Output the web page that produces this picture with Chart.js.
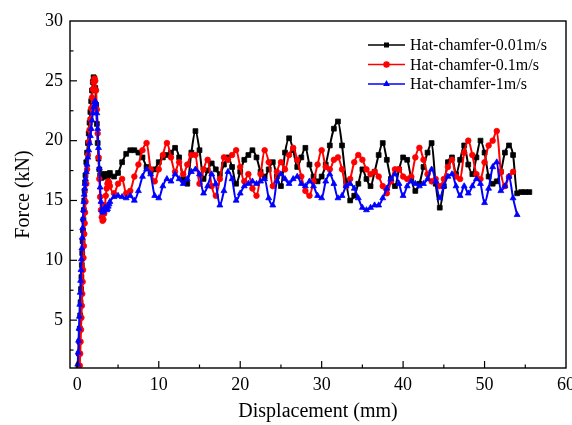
<!DOCTYPE html>
<html>
<head>
<meta charset="utf-8">
<script src="https://cdn.jsdelivr.net/npm/chart.js@4.4.1/dist/chart.umd.min.js"></script>
<style>
  html, body { margin: 0; padding: 0; background: #fff; }
  #wrap { width: 572px; height: 425px; position: relative; }
</style>
</head>
<body>
<div id="wrap"><canvas id="chart"></canvas></div>
<script>
// displacement (mm): rise, peak and body sections
const dispRise = [0, 0.05, 0.1, 0.15, 0.2, 0.25, 0.3, 0.35, 0.4, 0.45, 0.5, 0.55, 0.6, 0.65, 0.7, 0.75, 0.8, 0.85, 0.9, 0.95, 1.0];
const dispPeak = [1.1, 1.2, 1.3, 1.4, 1.5, 1.6, 1.7, 1.8, 1.9, 2.0,
  2.1, 2.2, 2.3, 2.4, 2.5, 2.6, 2.7, 2.8, 2.9, 3.0,
  3.1, 3.2, 3.3, 3.4, 3.5, 3.6, 3.7, 3.8, 3.9, 4.0];
const dispBody = [4.5, 5, 5.5, 6, 6.5, 7, 7.5, 8, 8.5, 9,
  9.5, 10, 10.5, 11, 11.5, 12, 12.5, 13, 13.5, 14,
  14.5, 15, 15.5, 16, 16.5, 17, 17.5, 18, 18.5, 19,
  19.5, 20, 20.5, 21, 21.5, 22, 22.5, 23, 23.5, 24,
  24.5, 25, 25.5, 26, 26.5, 27, 27.5, 28, 28.5, 29,
  29.5, 30, 30.5, 31, 31.5, 32, 32.5, 33, 33.5, 34,
  34.5, 35, 35.5, 36, 36.5, 37, 37.5, 38, 38.5, 39,
  39.5, 40, 40.5, 41, 41.5, 42, 42.5, 43, 43.5, 44,
  44.5, 45, 45.5, 46, 46.5, 47, 47.5, 48, 48.5, 49,
  49.5, 50, 50.5, 51, 51.5, 52, 52.5, 53, 53.5, 54,
  54.5, 55, 55.5];

// Hat-chamfer-0.01m/s (kN)
const blackRise = [null, null, null, 1.2, 2.2, 3.2, 4.3, 5.4, 6.5, 7.6, 8.6, 9.6, 10.6, 11.6, 12.5, 13.4, 14.2, 15.0, 15.8, 16.5, 17.1];
const blackPeak = [18.2, 19.0, 19.8, 20.6, 21.5, 22.4, 23.3, 24.2, 24.9, 25.3,
  25.2, 24.4, 23.0, 21.4, 19.8, 18.5, 17.6, 17.1, 16.9, 16.9,
  17.0, 17.1, 17.2, 17.2, 17.1, 17.0, 17.0, 17.1, 17.2, 17.3];
const blackBody = [17.0, 17.3, 18.2, 18.9, 19.2, 19.2, 19.0, 18.6, 17.8, 17.4,
  17.6, 18.2, 18.6, 18.8, 19.0, 19.4, 18.6, 16.8, 16.4, 19.0,
  20.8, 19.2, 16.8, 17.5, 18.1, 17.6, 17.2, 18.0, 18.6, 17.8,
  16.4, 17.4, 18.4, 18.8, 19.2, 18.6, 17.4, 17.0, 17.6, 18.2,
  17.0, 16.2, 19.0, 20.2, 19.2, 17.8, 18.6, 19.4, 18.0, 17.0,
  16.6, 17.0, 18.0, 19.6, 21.0, 21.6, 19.6, 16.6, 15.0, 15.4,
  16.4, 17.6, 16.8, 16.2, 17.4, 18.8, 19.8, 18.4, 16.8, 16.2,
  17.6, 18.6, 18.4, 16.8, 15.8, 16.4, 17.8, 19.0, 19.8, 16.4,
  14.4, 16.2, 18.2, 18.6, 17.2, 18.4, 19.6, 18.0, 17.2, 18.6,
  20.0, 19.0, 17.0, 16.4, 16.6, 17.4, 19.0, 19.6, 18.8, 15.6,
  15.7, 15.7, 15.7];

// Hat-chamfer-0.1m/s (kN)
const redRise = [null, null, null, null, null, null, 1.2, 2.2, 3.2, 4.2, 5.2, 6.2, 7.2, 8.2, 9.2, 10.2, 11.2, 12.2, 13.1, 14.0, 14.9];
const redPeak = [16.4, 17.6, 18.8, 19.9, 20.9, 21.8, 22.7, 23.6, 24.3, 24.9,
  25.2, 25.0, 24.2, 22.6, 20.6, 18.6, 16.8, 15.3, 14.2, 13.6,
  13.3, 13.4, 13.9, 14.6, 15.4, 16.0, 16.4, 16.6, 16.5, 16.2];
const redBody = [15.6, 16.4, 16.8, 15.6, 15.8, 17.0, 18.0, 19.2, 19.8, 17.6,
  16.6, 17.6, 18.8, 19.8, 18.6, 17.4, 18.2, 17.2, 18.0, 18.8,
  18.8, 16.4, 17.6, 18.4, 16.2, 15.4, 16.8, 18.6, 18.4, 18.8,
  19.2, 17.8, 16.6, 17.2, 16.0, 15.4, 17.2, 19.2, 18.2, 16.2,
  17.4, 18.2, 17.6, 18.8, 19.4, 18.4, 17.0, 15.8, 15.4, 16.6,
  18.0, 19.2, 17.8, 17.6, 18.4, 18.6, 17.6, 16.2, 16.8, 18.2,
  18.8, 18.4, 17.6, 17.2, 17.4, 17.0, 16.2, 15.6, 16.6, 17.6,
  17.6, 17.0, 16.8, 17.0, 18.6, 19.4, 18.4, 17.2, 16.6, 16.8,
  16.2, 16.8, 17.8, 18.4, 17.0, 16.8, 19.0, 20.0, 18.8, 17.2,
  16.8, 18.2, 19.6, 20.0, 20.8, 17.4, 16.2, 17.0, 17.4, null,
  null, null, null];

// Hat-chamfer-1m/s (kN)
const blueRise = [null, 1.3, 2.3, 3.3, 4.3, 5.3, 6.3, 7.3, 8.3, 9.2, 10.1, 11.0, 11.9, 12.7, 13.5, 14.2, 14.9, 15.5, 16.0, 16.4, 16.8];
const bluePeak = [17.4, 18.0, 18.6, 19.2, 19.8, 20.4, 21.0, 21.7, 22.3, 22.8,
  23.2, 23.3, 23.1, 22.3, 21.0, 19.4, 17.7, 16.1, 14.9, 14.2,
  14.0, 14.1, 14.3, 14.4, 14.3, 14.2, 14.3, 14.5, 14.7, 14.9];
const blueBody = [15.3, 15.4, 15.3, 15.2, 15.4, 15.0, 15.8, 17.0, 17.6, 17.2,
  15.4, 15.2, 16.2, 16.8, 16.6, 17.2, 16.8, 16.4, 16.8, 17.4,
  17.6, 17.2, 15.6, 16.2, 17.2, 16.4, 14.6, 15.8, 17.4, 16.8,
  15.0, 15.6, 16.2, 16.4, 16.6, 16.4, 16.6, 16.8, 15.2, 14.6,
  16.6, 17.2, 16.8, 16.4, 16.8, 17.0, 16.4, 16.2, 16.6, 16.2,
  15.4, 15.2, 16.6, 17.2, 16.4, 15.2, 15.4, 16.2, 16.4, 16.0,
  15.2, 14.4, 14.2, 14.4, 14.6, 14.6, 15.2, 16.0, 16.8, 17.2,
  16.4, 15.4, 16.2, 16.6, 16.4, 16.2, 16.4, 16.8, 17.6, 16.6,
  15.2, 16.2, 17.0, 17.2, 16.2, 15.4, 16.2, 15.6, 16.2, 16.8,
  16.4, 14.8, 16.0, 17.8, 18.2, 15.8, 16.2, 17.0, 15.2, 13.8,
  null, null, null];

const legendas = ['Hat-chamfer-0.01m/s', 'Hat-chamfer-0.1m/s', 'Hat-chamfer-1m/s'];
const cores = ['#000000', '#ff0000', '#0000ff'];
const estilos = ['rect', 'circle', 'triangle'];
const xTicks = [0, 10, 20, 30, 40, 50, 60];
const xMinor = [5, 15, 25, 35, 45, 55];
const yTicks = [5, 10, 15, 20, 25, 30];
const yMinor = [2.5, 7.5, 12.5, 17.5, 22.5, 27.5];

const fonte = 'Liberation Serif';
const disp = dispRise.concat(dispPeak, dispBody);

function montaPontos(ys) {
  const pts = [];
  for (let i = 0; i < disp.length; i++) {
    if (ys[i] !== null) pts.push({ x: disp[i], y: ys[i] });
  }
  return pts;
}

const series = [
  blackRise.concat(blackPeak, blackBody),
  redRise.concat(redPeak, redBody),
  blueRise.concat(bluePeak, blueBody)
];

const datasets = series.map((ys, i) => ({
  label: legendas[i],
  data: montaPontos(ys),
  borderColor: cores[i],
  backgroundColor: cores[i],
  borderWidth: 2,
  pointStyle: estilos[i],
  pointRadius: i == 1 ? 2.8 : 3.4,
  pointBorderWidth: 0.8,
  pointBorderColor: cores[i],
  pointBackgroundColor: cores[i],
  order: 3 - i,
  cubicInterpolationMode: 'monotone'
}));

// frame box, inward ticks and legend
const moldura = {
  id: 'moldura',
  afterDatasetsDraw(chart) {
    const { ctx, chartArea: a, scales: { x, y } } = chart;
    ctx.save();
    ctx.strokeStyle = '#000';
    ctx.lineWidth = 1.4;
    ctx.strokeRect(a.left, a.top, a.right - a.left, a.bottom - a.top);
    ctx.lineWidth = 1.2;
    function risco(x1, y1, x2, y2) {
      ctx.beginPath(); ctx.moveTo(x1, y1); ctx.lineTo(x2, y2); ctx.stroke();
    }
    xTicks.forEach(v => { const p = x.getPixelForValue(v); if (p > a.left && p < a.right) risco(p, a.bottom, p, a.bottom - 7); });
    xMinor.forEach(v => { const p = x.getPixelForValue(v); risco(p, a.bottom, p, a.bottom - 3.5); });
    yTicks.forEach(v => { const p = y.getPixelForValue(v); if (p > a.top && p < a.bottom) risco(a.left, p, a.left + 7, p); });
    yMinor.forEach(v => { const p = y.getPixelForValue(v); if (p > a.top && p < a.bottom) risco(a.left, p, a.left + 3.5, p); });
    ctx.restore();
  },
  afterDraw(chart) {
    const ctx = chart.ctx;
    ctx.save();
    ctx.font = '16px "' + fonte + '"';
    ctx.textBaseline = 'middle';
    legendas.forEach((txt, i) => {
      const yy = 45 + i * 19.5;
      ctx.strokeStyle = cores[i];
      ctx.fillStyle = cores[i];
      ctx.lineWidth = 1.3;
      ctx.beginPath(); ctx.moveTo(368, yy); ctx.lineTo(405, yy); ctx.stroke();
      Chart.helpers.drawPoint(ctx, { pointStyle: estilos[i], radius: 2.6, rotation: 0, borderWidth: 0.5 }, 386.5, yy);
      ctx.fillStyle = '#000';
      ctx.fillText(txt, 410, yy + 1);
    });
    ctx.restore();
  }
};

const config = {
  type: 'line',
  data: { datasets: datasets },
  options: {
    responsive: true,
    maintainAspectRatio: false,
    animation: false,
    layout: { padding: { left: 0, top: 21, right: 6, bottom: 0 } },
    plugins: { legend: { display: false }, tooltip: { enabled: false } },
    scales: {
      x: {
        type: 'linear',
        min: -0.9,
        max: 60,
        afterBuildTicks: s => { s.ticks = xTicks.map(v => ({ value: v })); },
        afterFit: s => { s.height = 57; s.paddingLeft = 0; s.paddingRight = 0; },
        grid: { display: false, drawTicks: false },
        border: { display: false },
        ticks: { color: '#000', font: { family: fonte, size: 18 }, padding: 6, maxRotation: 0, autoSkip: false },
        title: { display: true, text: 'Displacement (mm)', color: '#000', font: { family: fonte, size: 20 }, padding: { top: 0, bottom: 1 } }
      },
      y: {
        type: 'linear',
        min: 1,
        max: 30,
        afterBuildTicks: s => { s.ticks = yTicks.map(v => ({ value: v })); },
        afterFit: s => { s.width = 70; },
        grid: { display: false, drawTicks: false },
        border: { display: false },
        ticks: { color: '#000', font: { family: fonte, size: 18 }, padding: 7, autoSkip: false },
        title: { display: true, text: 'Force (kN)', color: '#000', font: { family: fonte, size: 20 }, padding: { top: 12, bottom: 0 } }
      }
    }
  },
  plugins: [moldura]
};

const myChart = new Chart(document.getElementById('chart'), config);
</script>
</body>
</html>
